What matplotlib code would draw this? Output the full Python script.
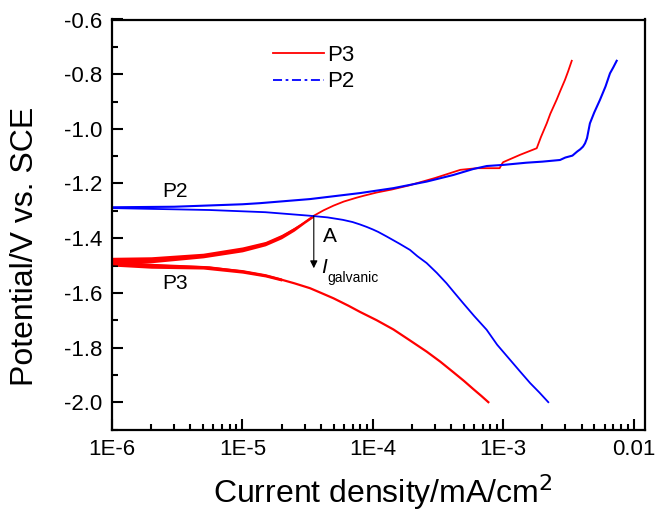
import matplotlib
matplotlib.use("Agg")
import matplotlib.pyplot as plt
from matplotlib.lines import Line2D
from matplotlib.ticker import LogLocator, MultipleLocator, NullFormatter

plt.rcParams['font.family'] = ['Liberation Sans', 'DejaVu Sans']

# ---- data (current density mA/cm2, potential V vs SCE) ----
p3_anodic_i = [1e-6, 2e-6, 3e-6, 5e-6, 7e-6, 1e-5, 1.2e-5, 1.5e-5, 1.7e-5, 2e-5, 2.2e-5,
               2.5e-5, 2.8e-5, 3.5e-5, 4.2e-5, 5e-5, 6e-5, 7.5e-5, 8.5e-5, 1.07e-4, 1.4e-4,
               1.9e-4, 3e-4, 4.7e-4, 6.3e-4, 9.4e-4, 9.8e-4, 1.0e-3, 1.35e-3, 1.81e-3,
               1.95e-3, 2.16e-3, 2.3e-3, 2.57e-3, 2.75e-3, 2.98e-3, 3.15e-3, 3.36e-3]
p3_anodic_v = [-1.490, -1.478, -1.472, -1.465, -1.455, -1.441, -1.432, -1.420, -1.410, -1.394, -1.383,
               -1.367, -1.352, -1.319, -1.298, -1.281, -1.266, -1.252, -1.245, -1.233, -1.222,
               -1.207, -1.180, -1.150, -1.144, -1.144, -1.128, -1.122, -1.095, -1.071,
               -1.030, -0.980, -0.945, -0.894, -0.860, -0.821, -0.790, -0.751]

p3_cathodic_i = [1e-6, 2e-6, 5.6e-6, 1e-5, 1.5e-5, 2e-5, 2.5e-5, 3.3e-5, 4e-5, 5e-5, 6.5e-5,
                 8e-5, 1.07e-4, 1.44e-4, 1.9e-4, 2.59e-4, 3.3e-4, 4.14e-4, 5e-4, 5.9e-4,
                 6.8e-4, 7.7e-4]
p3_cathodic_v = [-1.495, -1.500, -1.507, -1.522, -1.537, -1.552, -1.565, -1.583, -1.600, -1.620, -1.647,
                 -1.670, -1.700, -1.734, -1.772, -1.815, -1.852, -1.890, -1.922, -1.952,
                 -1.977, -2.000]

# noisy band around P3 near its corrosion potential
p3_band_an_i = [1e-6, 2e-6, 5e-6, 1e-5, 1.5e-5, 2e-5, 2.5e-5, 3e-5, 3.5e-5]
p3_band_an_hi = [-1.470, -1.468, -1.455, -1.432, -1.412, -1.386, -1.360, -1.336, -1.314]
p3_band_an_lo = [-1.500, -1.490, -1.472, -1.450, -1.428, -1.402, -1.374, -1.346, -1.324]
p3_band_ca_i = [1e-6, 2e-6, 5e-6, 1e-5, 1.5e-5, 2e-5]
p3_band_ca_hi = [-1.485, -1.492, -1.500, -1.515, -1.530, -1.546]
p3_band_ca_lo = [-1.502, -1.510, -1.513, -1.528, -1.542, -1.557]

p2_anodic_i = [1e-6, 3e-6, 1e-5, 1.36e-5, 3.3e-5, 8e-5, 1.44e-4, 2.59e-4, 4.14e-4, 5.9e-4,
               7.5e-4, 1.0e-3, 1.5e-3, 2.0e-3, 2.73e-3, 3.0e-3, 3.4e-3, 3.7e-3, 3.9e-3,
               4.1e-3, 4.25e-3, 4.4e-3, 4.63e-3, 5.0e-3, 5.53e-3, 6.1e-3, 6.6e-3, 7.0e-3, 7.43e-3]
p2_anodic_v = [-1.287, -1.285, -1.276, -1.272, -1.257, -1.235, -1.217, -1.193, -1.169, -1.147,
               -1.136, -1.132, -1.124, -1.120, -1.114, -1.105, -1.098, -1.083, -1.075,
               -1.065, -1.053, -1.034, -0.980, -0.940, -0.894, -0.845, -0.797, -0.775, -0.751]

p2_cathodic_i = [1e-6, 5.6e-6, 1.5e-5, 3.3e-5, 4.5e-5, 5.9e-5, 7e-5, 8e-5, 9e-5, 1.0e-4, 1.1e-4,
                 1.28e-4, 1.6e-4, 1.93e-4, 2.2e-4, 2.59e-4, 3.1e-4, 3.68e-4, 4.2e-4, 4.94e-4,
                 6e-4, 7.47e-4, 9e-4, 1.13e-3, 1.35e-3, 1.61e-3, 1.9e-3, 2.22e-3]
p2_cathodic_v = [-1.290, -1.297, -1.305, -1.318, -1.324, -1.333, -1.341, -1.350, -1.359, -1.368, -1.377,
                 -1.394, -1.420, -1.443, -1.466, -1.491, -1.527, -1.565, -1.598, -1.638,
                 -1.685, -1.735, -1.790, -1.845, -1.888, -1.930, -1.965, -2.000]

point_a = (3.53e-5, -1.318)
arrow_end_v = -1.51

xticks = [1e-6, 1e-5, 1e-4, 1e-3, 1e-2]
xtick_labels = ['1E-6', '1E-5', '1E-4', '1E-3', '0.01']
yticks = [-2.0, -1.8, -1.6, -1.4, -1.2, -1.0, -0.8, -0.6]

RED = '#ff0000'
BLUE = '#0000ff'

fig = plt.figure(figsize=(6.56, 5.15), dpi=100)
ax = fig.add_axes([112/656, 1 - 429.5/515, 533/656, 410/515])

ax.fill_between(p3_band_an_i, p3_band_an_lo, p3_band_an_hi, color=RED, lw=0)
ax.fill_between(p3_band_ca_i, p3_band_ca_lo, p3_band_ca_hi, color=RED, lw=0)
ax.plot(p3_anodic_i, p3_anodic_v, color=RED, lw=1.3)
ax.plot(p3_cathodic_i, p3_cathodic_v, color=RED, lw=1.6)
ax.plot(p2_anodic_i, p2_anodic_v, color=BLUE, lw=1.5)
ax.plot(p2_cathodic_i, p2_cathodic_v, color=BLUE, lw=1.3)

ax.set_xscale('log')
ax.set_xlim(1e-6, 1.225e-2)
ax.set_ylim(-2.1, -0.6)
ax.set_xticks(xticks)
ax.set_xticklabels(xtick_labels)
ax.xaxis.set_minor_locator(LogLocator(base=10, subs=range(2, 10)))
ax.xaxis.set_minor_formatter(NullFormatter())
ax.set_yticks(yticks)
ax.set_yticklabels([f'{v:.1f}' for v in yticks])
ax.yaxis.set_minor_locator(MultipleLocator(0.1))

ax.tick_params(which='both', direction='in', top=False, right=False, width=1.5, labelsize=16, pad=7)
ax.tick_params(which='major', length=8)
ax.tick_params(which='minor', length=4.5)
for s in ax.spines.values():
    s.set_linewidth(1.6)

ax.set_xlabel('Current density/mA/cm$^2$', fontsize=23)
ax.set_ylabel('Potential/V vs. SCE', fontsize=23)
ax.xaxis.set_label_coords(0.509, -0.105)
ax.yaxis.set_label_coords(-0.135, 0.446)

handles = [Line2D([], [], color=RED, lw=1.3),
           Line2D([], [], color=BLUE, lw=1.3, linestyle=(0, (5, 2, 1.5, 2)))]
ax.legend(handles, ['P3', 'P2'], loc='upper left', bbox_to_anchor=(0.3015, 0.938),
          frameon=False, fontsize=16, handlelength=2.3, handletextpad=0.15,
          labelspacing=0.25, borderpad=0, borderaxespad=0)

ax.text(2.41e-6, -1.231, 'P2', fontsize=15, ha='left', va='center')
ax.text(2.44e-6, -1.565, 'P3', fontsize=15, ha='left', va='center')
ax.text(4.14e-5, -1.394, 'A', fontsize=15, ha='left', va='center')
ax.text(4.0e-5, -1.527, 'I', fontsize=15, style='italic', ha='left', va='baseline')
ax.text(4.45e-5, -1.560, 'galvanic', fontsize=10, ha='left', va='baseline')
ax.annotate('', xy=(point_a[0], arrow_end_v), xytext=point_a,
            arrowprops=dict(arrowstyle='-|>', color='black', lw=0.8,
                            mutation_scale=11, shrinkA=0, shrinkB=0))

fig.savefig('out.png', dpi=100)
